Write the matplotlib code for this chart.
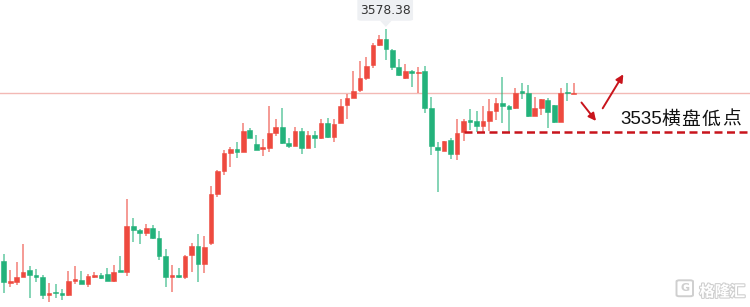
import matplotlib
matplotlib.use("Agg")
import matplotlib.pyplot as plt
import matplotlib.patheffects as pe
from matplotlib.patches import FancyBboxPatch, Polygon
import numpy as np

opens = [3480.6, 3471.4, 3471.8, 3473.9, 3476.7, 3474.7, 3473.9, 3466.2, 3467.3, 3466.9,
         3466.2, 3472.2, 3472.5, 3470.8, 3473.9, 3474.6, 3474.9, 3472.2, 3476.6, 3476.0,
         3495.3, 3493.6, 3492.5, 3494.3, 3490.4, 3482.6, 3473.9, 3474.6, 3473.6, 3483.1,
         3487.0, 3479.1, 3488.2, 3508.8, 3518.5, 3526.0, 3527.7, 3526.7, 3535.9, 3529.8,
         3528.0, 3528.1, 3534.7, 3537.2, 3530.2, 3529.1, 3535.4, 3528.4, 3533.7, 3532.3,
         3538.7, 3532.8, 3538.9, 3546.3, 3549.5, 3552.7, 3557.7, 3563.3, 3571.8, 3574.2,
         3569.6, 3562.6, 3557.7, 3560.8, 3559.8, 3560.8, 3545.0, 3528.8, 3527.1, 3531.6,
         3525.7, 3534.9, 3540.1, 3539.8, 3537.5, 3539.7, 3544.0, 3547.1, 3546.0, 3545.0,
         3552.0, 3551.6, 3541.8, 3545.3, 3548.5, 3546.4, 3539.4, 3551.6, 3551.1]
highs = [3483.5, 3476.7, 3480.0, 3487.6, 3478.4, 3477.1, 3474.4, 3471.1, 3470.8, 3468.6,
         3476.3, 3478.5, 3476.3, 3474.9, 3476.0, 3475.3, 3477.4, 3478.8, 3482.6, 3506.7,
         3498.6, 3493.9, 3496.1, 3495.7, 3493.3, 3485.5, 3478.8, 3477.7, 3483.0, 3488.0,
         3491.8, 3491.2, 3512.3, 3519.0, 3527.4, 3528.8, 3530.7, 3538.7, 3536.6, 3533.7,
         3531.9, 3546.0, 3540.5, 3545.0, 3532.3, 3537.2, 3536.8, 3535.4, 3535.4, 3540.4,
         3540.8, 3540.4, 3548.8, 3551.1, 3560.8, 3565.1, 3566.8, 3572.5, 3576.0, 3578.38,
         3570.0, 3565.7, 3563.6, 3561.2, 3562.3, 3562.9, 3549.7, 3530.9, 3531.4, 3532.3,
         3540.4, 3540.4, 3544.6, 3544.0, 3546.0, 3548.9, 3549.2, 3558.1, 3546.2, 3553.5,
         3555.6, 3554.9, 3549.9, 3549.0, 3549.2, 3546.6, 3553.5, 3555.6, 3555.6]
lows = [3466.9, 3469.4, 3470.4, 3473.9, 3464.8, 3471.8, 3464.3, 3463.3, 3464.8, 3464.0,
        3465.9, 3470.8, 3470.7, 3469.4, 3473.5, 3473.0, 3472.0, 3471.8, 3475.8, 3474.2,
        3488.7, 3487.6, 3491.1, 3489.7, 3480.9, 3469.4, 3467.6, 3473.3, 3473.0, 3476.0,
        3471.5, 3475.6, 3487.3, 3507.7, 3516.8, 3520.4, 3523.9, 3526.5, 3532.4, 3527.2,
        3525.0, 3526.7, 3533.3, 3530.0, 3528.1, 3528.9, 3525.6, 3528.2, 3528.1, 3532.1,
        3532.3, 3530.9, 3538.7, 3540.4, 3549.2, 3552.0, 3557.0, 3561.9, 3571.3, 3565.4,
        3561.2, 3558.7, 3557.5, 3553.9, 3551.4, 3542.9, 3525.3, 3509.8, 3526.9, 3523.6,
        3523.2, 3531.2, 3535.9, 3535.1, 3535.1, 3535.4, 3540.1, 3538.9, 3535.1, 3544.8,
        3548.8, 3541.5, 3541.6, 3542.2, 3536.7, 3538.9, 3539.2, 3548.2, 3550.9]
closes = [3471.5, 3471.7, 3473.9, 3476.0, 3474.6, 3473.9, 3466.2, 3467.1, 3466.9, 3466.2,
          3472.1, 3472.5, 3470.8, 3474.2, 3474.6, 3473.2, 3472.2, 3476.0, 3476.0, 3495.3,
          3493.6, 3492.5, 3494.3, 3490.4, 3482.6, 3473.6, 3474.5, 3473.6, 3482.8, 3487.0,
          3479.1, 3486.6, 3508.7, 3518.5, 3526.0, 3527.7, 3526.7, 3535.6, 3532.6, 3527.4,
          3528.5, 3534.5, 3537.2, 3530.2, 3529.2, 3535.4, 3528.4, 3533.7, 3532.3, 3538.7,
          3533.0, 3538.3, 3546.1, 3549.2, 3552.5, 3557.7, 3562.9, 3571.8, 3574.2, 3569.9,
          3562.6, 3559.1, 3560.8, 3559.8, 3560.5, 3545.3, 3529.1, 3527.4, 3531.2, 3525.6,
          3534.5, 3539.8, 3539.4, 3537.5, 3539.5, 3544.0, 3547.1, 3546.1, 3544.7, 3551.6,
          3551.6, 3541.8, 3545.0, 3548.8, 3543.6, 3539.4, 3551.6, 3551.4, 3551.5]

peak_label = "3578.38"
support_level = 3535.0
support_start = 71
annot_num = "3535"
annot_cjk = "横盘低点"
watermark = "格隆汇"

UP = '#ee4a3f'
DOWN = '#23b27b'

o = np.array(opens); h = np.array(highs); l = np.array(lows); c = np.array(closes)
x = np.arange(len(o))
up = c >= o
colors = np.where(up, UP, DOWN)

fig = plt.figure(figsize=(7.5, 3.07), dpi=100)
ax = fig.add_axes([0, 0, 1, 1])
ax.set_xlim(-0.57, 115.22)
ax.set_ylim(3461.08, 3590.76)
ax.axis('off')

# current price line
ax.axhline(c[-1], color='#f3b9b5', lw=1.0, zorder=1)

# wicks
ax.vlines(x, l, h, colors=colors, lw=1.3, alpha=0.6, zorder=2)
# bodies
bottoms = np.minimum(o, c)
heights = np.maximum(np.abs(c - o), 0.55)
ax.bar(x, heights, bottom=bottoms, width=0.72, color=colors, edgecolor=colors,
       linewidth=0.4, zorder=3)

# support dashed line
ax.hlines(support_level, support_start, 116, colors='#c8141c', lw=1.8,
          linestyles=(0, (3.2, 1.8)), zorder=4)

# tooltip for peak
pi = int(np.argmax(h))
box = FancyBboxPatch((pi - 4.4, 3582.0), 8.6, 9.5,
                     boxstyle="round,pad=0,rounding_size=0.6",
                     fc='#eef0f3', ec='none', zorder=5, mutation_aspect=1)
ax.add_patch(box)
tri = Polygon([[pi - 0.9, 3582.05], [pi + 0.9, 3582.05], [pi, h[pi] + 1.0]],
              closed=True, fc='#eef0f3', ec='none', zorder=5)
ax.add_patch(tri)
ax.text(pi - 0.1, 3586.3, peak_label, ha='center', va='center', fontsize=8.8,
        color='#333333', family='DejaVu Sans', zorder=6)

# arrows
arrow_kw = dict(arrowstyle='-|>', color='#c8141c', lw=1.4, mutation_scale=11,
                shrinkA=0, shrinkB=0)
ax.annotate('', xy=(0.7947, 0.6059), xytext=(0.7753, 0.6661),
            xycoords='axes fraction', textcoords='axes fraction', arrowprops=arrow_kw)
ax.annotate('', xy=(0.8311, 0.7580), xytext=(0.8036, 0.6472),
            xycoords='axes fraction', textcoords='axes fraction', arrowprops=arrow_kw)

ax.text(0.8276, 0.612, annot_num, transform=ax.transAxes, ha='left', va='center',
        fontsize=13.5, color='#111111', family=['Liberation Sans'])
for k, ch in enumerate(annot_cjk):
    ax.text((661.0 + 20.3 * k) / 750, 0.612, ch, transform=ax.transAxes, ha='left',
            va='center', fontsize=13.5, color='#111111', family=['Noto Sans CJK SC'])

# watermark
ax.text(0.9935, 0.0505, watermark, transform=ax.transAxes, ha='right', va='center',
        fontsize=11, color='white', family=['Noto Sans CJK SC'], fontweight='bold',
        path_effects=[pe.withStroke(linewidth=1.6, foreground='#cfcfcf')], zorder=6)
gbox = FancyBboxPatch((0.902, 0.035), 0.022, 0.052, transform=ax.transAxes,
                      boxstyle="round,pad=0,rounding_size=0.004",
                      fc='white', ec='#cfcfcf', lw=1.4, zorder=6)
ax.add_patch(gbox)
ax.text(0.913, 0.061, 'G', transform=ax.transAxes, ha='center', va='center',
        fontsize=8, color='#cfcfcf', fontweight='bold', zorder=7)

fig.savefig('out.png', dpi=100)
